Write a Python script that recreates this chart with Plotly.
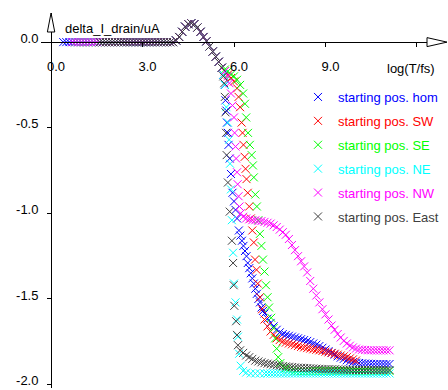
import plotly.graph_objects as go

# ---------------- data ----------------
COMMON_X = [0.4, 0.5, 0.6, 0.7, 0.8, 0.9, 1.0, 1.1, 1.2, 1.3, 1.4, 1.5, 1.6, 1.7, 1.8, 1.9,
            2.0, 2.1, 2.2, 2.3, 2.4, 2.5, 2.6, 2.7, 2.8, 2.9, 3.0, 3.1, 3.2, 3.3, 3.4, 3.5,
            3.6, 3.7, 3.8, 3.9, 4.0, 4.1, 4.2, 4.3, 4.4, 4.5, 4.6, 4.7, 4.8, 4.9, 5.0, 5.1,
            5.2, 5.3, 5.4, 5.5, 5.6]
COMMON_Y = [0.0, 0.0, 0.0, 0.0, 0.0, 0.0, 0.0, 0.0, 0.0, 0.0, 0.0, 0.0, 0.0, 0.0, 0.0, 0.0,
            0.0, 0.0, 0.0, 0.0, 0.0, 0.0, 0.0, 0.0, 0.0, 0.0, 0.0, 0.0, 0.0, 0.0, 0.0, 0.0,
            0.0, 0.0, 0.0, 0.0, 0.0, 0.01, 0.03, 0.06, 0.09, 0.105, 0.11, 0.105, 0.085, 0.06, 0.03, 0.005,
            -0.025, -0.055, -0.085, -0.115, -0.15]

TAIL_X = [7.0, 7.1, 7.2, 7.3, 7.4, 7.5, 7.6, 7.7, 7.8, 7.9,
          8.0, 8.1, 8.2, 8.3, 8.4, 8.5, 8.6, 8.7, 8.8, 8.9,
          9.0, 9.1, 9.2, 9.3, 9.4, 9.5, 9.6, 9.7, 9.8, 9.9,
          10.0, 10.1, 10.2, 10.3, 10.4, 10.5, 10.6, 10.7, 10.8, 10.9, 11.0, 11.1]

# starting pos. hom (blue)
HOM_MID_X = [5.65, 5.7, 5.72, 5.75, 5.77, 5.8, 5.82, 5.86, 5.9, 5.95, 6.0, 6.05, 6.1, 6.16, 6.21,
             6.26, 6.31, 6.36, 6.41, 6.45, 6.5, 6.55, 6.6, 6.65, 6.7, 6.75, 6.8, 6.85, 6.9, 6.95]
HOM_MID_Y = [-0.19, -0.25, -0.34, -0.4, -0.47, -0.53, -0.6, -0.68, -0.77, -0.88, -0.93, -0.98, -1.03, -1.1, -1.13,
             -1.16, -1.19, -1.22, -1.25, -1.29, -1.32, -1.35, -1.38, -1.41, -1.44, -1.47, -1.5, -1.52, -1.55, -1.57]
HOM_TAIL_Y = [-1.585, -1.615, -1.64, -1.66, -1.68, -1.695, -1.705, -1.71, -1.715, -1.72,
              -1.725, -1.73, -1.735, -1.74, -1.745, -1.752, -1.76, -1.767, -1.775, -1.785,
              -1.795, -1.805, -1.815, -1.825, -1.835, -1.843, -1.85, -1.858, -1.865, -1.869,
              -1.872, -1.874, -1.876, -1.877, -1.878, -1.879, -1.88, -1.88, -1.88, -1.88, -1.88, -1.88]

# starting pos. SW (red)
SW_MID_X = [5.7, 5.8, 5.9, 6.0, 6.1, 6.15, 6.2, 6.25, 6.28, 6.31, 6.35, 6.38, 6.41, 6.45, 6.5,
            6.55, 6.6, 6.65, 6.69, 6.74, 6.78, 6.85, 6.92]
SW_MID_Y = [-0.17, -0.19, -0.21, -0.23, -0.27, -0.32, -0.38, -0.47, -0.53, -0.6, -0.67, -0.74, -0.8, -0.88, -0.96,
            -1.03, -1.1, -1.17, -1.27, -1.33, -1.41, -1.49, -1.56]
SW_TAIL_Y = [-1.62, -1.66, -1.69, -1.71, -1.73, -1.74, -1.748, -1.755, -1.76, -1.765,
             -1.77, -1.775, -1.78, -1.783, -1.787, -1.79, -1.794, -1.797, -1.8, -1.804,
             -1.808, -1.812, -1.816, -1.82, -1.825, -1.83, -1.835, -1.84, -1.847, -1.853,
             -1.86]

# starting pos. SE (green)
SE_MID_X = [5.7, 5.8, 5.9, 6.0, 6.1, 6.2, 6.3, 6.36, 6.4, 6.46, 6.52, 6.58, 6.62, 6.65, 6.7,
            6.75, 6.8, 6.85, 6.9, 6.95, 7.0, 7.05, 7.1, 7.15, 7.22, 7.3, 7.35, 7.4, 7.45, 7.52,
            7.6, 7.7, 7.8, 7.9]
SE_MID_Y = [-0.16, -0.17, -0.19, -0.2, -0.22, -0.25, -0.3, -0.36, -0.44, -0.53, -0.6, -0.66, -0.72, -0.79, -0.89,
            -0.96, -1.04, -1.12, -1.19, -1.27, -1.34, -1.42, -1.49, -1.55, -1.61, -1.67, -1.73, -1.79, -1.84, -1.875,
            -1.895, -1.905, -1.912, -1.916]
SE_TAIL_Y = [-1.92, -1.92, -1.92, -1.92, -1.92, -1.92, -1.92, -1.92, -1.92, -1.92,
             -1.92, -1.92, -1.92, -1.92, -1.92, -1.92, -1.92, -1.92, -1.92, -1.92,
             -1.92, -1.92, -1.92, -1.92, -1.92, -1.92, -1.92, -1.92, -1.92, -1.92, -1.92, -1.92]

# starting pos. NE (cyan)
NE_MID_X = [5.65, 5.7, 5.75, 5.8, 5.84, 5.87, 5.9, 5.93, 5.97, 6.0, 6.05, 6.1, 6.13, 6.17, 6.22,
            6.3, 6.4, 6.55, 6.7, 6.85]
NE_MID_Y = [-0.19, -0.25, -0.38, -0.47, -0.57, -0.71, -0.86, -1.04, -1.23, -1.41, -1.52, -1.62, -1.72, -1.82, -1.89,
            -1.92, -1.93, -1.935, -1.935, -1.935]
NE_TAIL_Y = [-1.935, -1.935, -1.935, -1.935, -1.935, -1.935, -1.935, -1.935, -1.935, -1.935,
             -1.935, -1.935, -1.935, -1.935, -1.935, -1.935, -1.935, -1.935, -1.935, -1.935,
             -1.935, -1.935, -1.935, -1.935, -1.935, -1.935, -1.935, -1.935, -1.935, -1.935,
             -1.935, -1.935, -1.935, -1.935, -1.935, -1.935, -1.935, -1.935, -1.935, -1.935, -1.935, -1.935]

# starting pos. NW (magenta)
NW_MID_X = [5.7, 5.8, 5.85, 5.9, 5.95, 6.0, 6.02, 6.05, 6.07, 6.1, 6.12, 6.15, 6.18, 6.22, 6.3,
            6.4, 6.5, 6.6, 6.7, 6.8, 6.9]
NW_MID_Y = [-0.17, -0.2, -0.24, -0.3, -0.37, -0.44, -0.53, -0.61, -0.68, -0.76, -0.83, -0.9, -0.96, -1.0, -1.02,
            -1.03, -1.035, -1.04, -1.04, -1.045, -1.045]
NW_TAIL_Y = [-1.05, -1.055, -1.06, -1.07, -1.08, -1.095, -1.11, -1.125, -1.15, -1.185,
             -1.215, -1.25, -1.28, -1.31, -1.345, -1.395, -1.44, -1.48, -1.52, -1.56,
             -1.59, -1.62, -1.655, -1.68, -1.705, -1.725, -1.745, -1.76, -1.773, -1.783,
             -1.79, -1.795, -1.797, -1.798, -1.8, -1.8, -1.8, -1.8, -1.8, -1.8, -1.8, -1.8]

# starting pos. East (dark grey)
EAST_MID_X = [5.65, 5.68, 5.7, 5.72, 5.74, 5.76, 5.8, 5.86, 5.93, 5.97, 5.99, 6.01, 6.07, 6.1, 6.13,
              6.2, 6.3, 6.4, 6.5, 6.6, 6.7, 6.8, 6.9]
EAST_MID_Y = [-0.2, -0.24, -0.32, -0.41, -0.53, -0.66, -0.82, -0.99, -1.16, -1.29, -1.42, -1.54, -1.63, -1.71, -1.77,
              -1.8, -1.815, -1.83, -1.84, -1.85, -1.86, -1.865, -1.87]
EAST_TAIL_Y = [-1.875, -1.878, -1.881, -1.884, -1.887, -1.89, -1.892, -1.894, -1.896, -1.898,
               -1.9, -1.901, -1.902, -1.903, -1.904, -1.905, -1.906, -1.907, -1.908, -1.909,
               -1.91, -1.91, -1.911, -1.911, -1.912, -1.912, -1.913, -1.913, -1.914, -1.914,
               -1.915, -1.915, -1.915, -1.915, -1.915, -1.915, -1.915, -1.915, -1.915, -1.915, -1.915, -1.915]

SERIES = [
    # name, colour, start index in common part, mid x, mid y, tail y, tail start index
    ("starting pos. hom", "#0000ff", 0, HOM_MID_X, HOM_MID_Y, HOM_TAIL_Y, 0),
    ("starting pos. SW", "#ff0000", 4, SW_MID_X, SW_MID_Y, SW_TAIL_Y, 0),
    ("starting pos. SE", "#00ff00", 4, SE_MID_X, SE_MID_Y, SE_TAIL_Y, 10),
    ("starting pos. NE", "#00ffff", 4, NE_MID_X, NE_MID_Y, NE_TAIL_Y, 0),
    ("starting pos. NW", "#ff00ff", 3, NW_MID_X, NW_MID_Y, NW_TAIL_Y, 0),
    ("starting pos. East", "#404040", 12, EAST_MID_X, EAST_MID_Y, EAST_TAIL_Y, 0),
]

X_TICKS = [0, 3, 6, 9, 12]
X_TICKTEXT = ["0.0", "3.0", "6.0", "9.0", ""]
Y_TICKS = [0.0, -0.5, -1.0, -1.5, -2.0]
Y_TICKTEXT = ["0.0", "-0.5", "-1.0", "-1.5", "-2.0"]

X_RANGE = [-0.33, 12.33]
Y_RANGE = [-2.02, 0.17]

# ---------------- figure ----------------
FONT = "Liberation Sans, Arial, Helvetica, sans-serif"
W, H = 448, 390
ML, MR, MT, MB = 41, 21, 13, 2
PW, PH = W - ML - MR, H - MT - MB

fig = go.Figure()
for i, (name, col, s, mx, my, ty, ts) in enumerate(SERIES):
    xs = COMMON_X[s:] + mx + TAIL_X[ts:ts + len(ty)]
    ys = COMMON_Y[s:] + my + ty
    fig.add_trace(go.Scatter(
        x=xs, y=ys, mode="markers",
        name=f"<span style='color:{col}'>{name}</span>",
        legendgroup=f"g{i}",
        cliponaxis=False,
        marker=dict(symbol="x-thin", size=8, color=col, line=dict(width=1, color=col)),
    ))

x0_frac = (0 - X_RANGE[0]) / (X_RANGE[1] - X_RANGE[0])
y0_frac = (0 - Y_RANGE[0]) / (Y_RANGE[1] - Y_RANGE[0])

fig.update_layout(
    width=W, height=H,
    margin=dict(l=ML, r=MR, t=MT, b=MB, autoexpand=False),
    paper_bgcolor="white", plot_bgcolor="white",
    font=dict(family=FONT, size=13, color="black"),
    showlegend=True,
    legend=dict(x=(298 - ML) / PW, y=(H - MB - 82) / PH, xanchor="left", yanchor="top",
                bgcolor="rgba(0,0,0,0)", borderwidth=0,
                font=dict(family=FONT, size=13),
                tracegroupgap=4, itemwidth=30),
    xaxis=dict(range=X_RANGE, anchor="free", position=y0_frac, side="bottom",
               showline=True, linecolor="black", linewidth=1,
               ticks="outside", ticklen=4, tickcolor="black", tickwidth=1,
               tickvals=X_TICKS, ticktext=X_TICKTEXT,
               ticklabelshift=5, ticklabelstandoff=8,
               showgrid=False, zeroline=False),
    yaxis=dict(range=Y_RANGE, anchor="free", position=x0_frac,
               showline=True, linecolor="black", linewidth=1,
               ticks="outside", ticklen=4, tickcolor="black", tickwidth=1,
               tickvals=Y_TICKS, ticktext=Y_TICKTEXT,
               ticklabelshift=-4, ticklabelstandoff=6,
               showgrid=False, zeroline=False),
)

# axis titles
fig.add_annotation(text="delta_I_drain/uA", xref="paper", yref="paper",
                   x=(63 - ML) / PW, y=1, xanchor="left", yanchor="middle", yshift=-15,
                   showarrow=False, font=dict(family=FONT, size=13))
fig.add_annotation(text="log(T/fs)", xref="paper", yref="paper",
                   x=(437 - ML) / PW, y=y0_frac, xanchor="right", yanchor="middle", yshift=-26,
                   showarrow=False, font=dict(family=FONT, size=13))

# open arrow heads at the axis ends
fig.add_shape(type="path", xref="paper", yref="paper", xsizemode="pixel", ysizemode="pixel",
              xanchor=1, yanchor=y0_frac, path="M0,-4.5L20,0L0,4.5Z",
              fillcolor="white", line=dict(color="black", width=1))
fig.add_shape(type="path", xref="paper", yref="paper", xsizemode="pixel", ysizemode="pixel",
              xanchor=x0_frac, yanchor=1, path="M-3.7,-19L0,0L3.7,-19Z",
              fillcolor="white", line=dict(color="black", width=1))

fig.write_html("out.html")
